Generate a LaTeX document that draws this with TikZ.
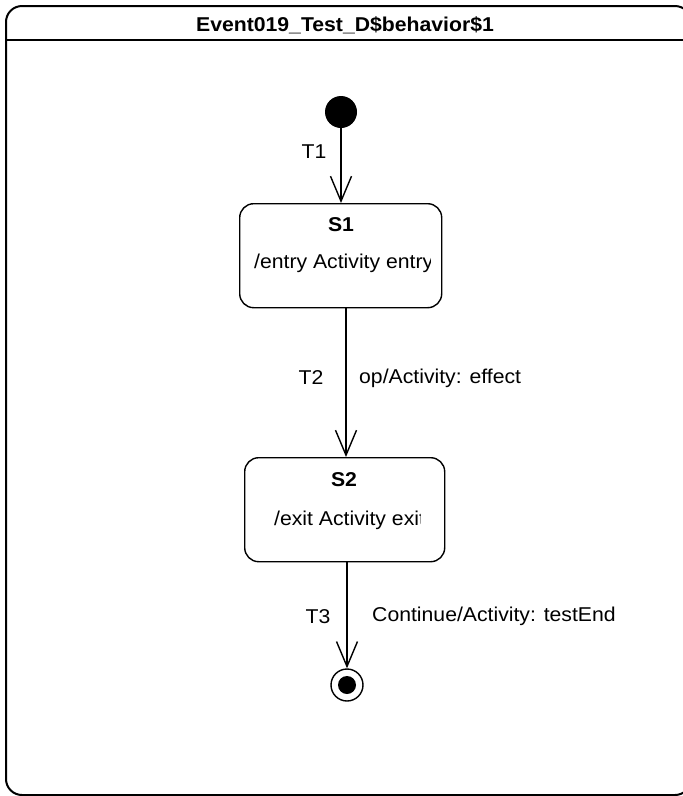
\documentclass[tikz,border=0pt]{standalone}
\usepackage{fontspec}
\setmainfont{Liberation Sans}[FakeStretch=1.06]
\usetikzlibrary{arrows.meta}
\begin{document}
\begin{tikzpicture}[x=1pt,y=-1pt,
  txt/.style={font=\fontsize{20}{24}\selectfont, inner sep=0pt},
  btxt/.style={font=\fontsize{20}{24}\selectfont\bfseries, inner sep=0pt},
  statebox/.style={draw, rounded corners=14pt, line width=1.4pt, inner sep=0pt},
  trans/.style={line width=1.4pt, -{Straight Barb[length=25pt,width=21pt,line width=1.4pt]}}]
\useasboundingbox (0,0) rectangle (683,796);
\clip (0,0) rectangle (683,796);
% frame
\node[draw, line width=2pt, rounded corners=16pt, minimum width=685pt, minimum height=789pt, anchor=north west, inner sep=0pt] (frame) at (5,5) {};
\coordinate (sepL) at (5,40);
\coordinate (sepR) at (690,40);
\draw[line width=2pt] (sepL) -- (sepR);
\node[btxt, anchor=base] (title) at (345,31) {Event019\_Test\_D\$behavior\$1};
% initial
\node[circle, fill=black, minimum size=32pt, inner sep=0pt] (init) at (341,112) {};
% S1
\node[statebox, minimum width=202pt, minimum height=104pt, anchor=north west] (S1) at (239,203) {};
\node[btxt, anchor=base] (S1name) at (341,231) {S1};
\begin{scope}
\clip (240,240) rectangle (430,290);
\node[txt, anchor=base west] (S1act) at (254,268) {/entry Activity entry};
\end{scope}
% S2
\node[statebox, minimum width=200pt, minimum height=104pt, anchor=north west] (S2) at (244,457) {};
\node[btxt, anchor=base] (S2name) at (344,486) {S2};
\begin{scope}
\clip (245,495) rectangle (420,545);
\node[txt, anchor=base west] (S2act) at (274,525) {/exit Activity exit};
\end{scope}
% final
\node[circle, draw, line width=1.4pt, minimum size=32pt, inner sep=0pt] (final) at (347,685) {};
\node[circle, fill=black, minimum size=18pt, inner sep=0pt] (finalin) at (final.center) {};
% transitions
\coordinate (t1s) at (init.south);
\coordinate (t1e) at (init.south |- S1.north);
\draw[trans] (t1s) -- (t1e);
\node[txt, anchor=base] (T1) at (314,158) {T1};
\coordinate (t2s) at (346,307);
\coordinate (t2e) at (t2s |- S2.north);
\draw[trans] (t2s) -- (t2e);
\node[txt, anchor=base] (T2) at (311,384) {T2};
\node[txt, anchor=base west] (T2l) at (359,383) {op/Activity: effect};
\coordinate (t3s) at (347,561);
\coordinate (t3e) at (final.north);
\draw[trans] (t3s) -- (t3e);
\node[txt, anchor=base] (T3) at (318,623) {T3};
\node[txt, anchor=base west] (T3l) at (372,621) {Continue/Activity: testEnd};
\end{tikzpicture}
\end{document}
